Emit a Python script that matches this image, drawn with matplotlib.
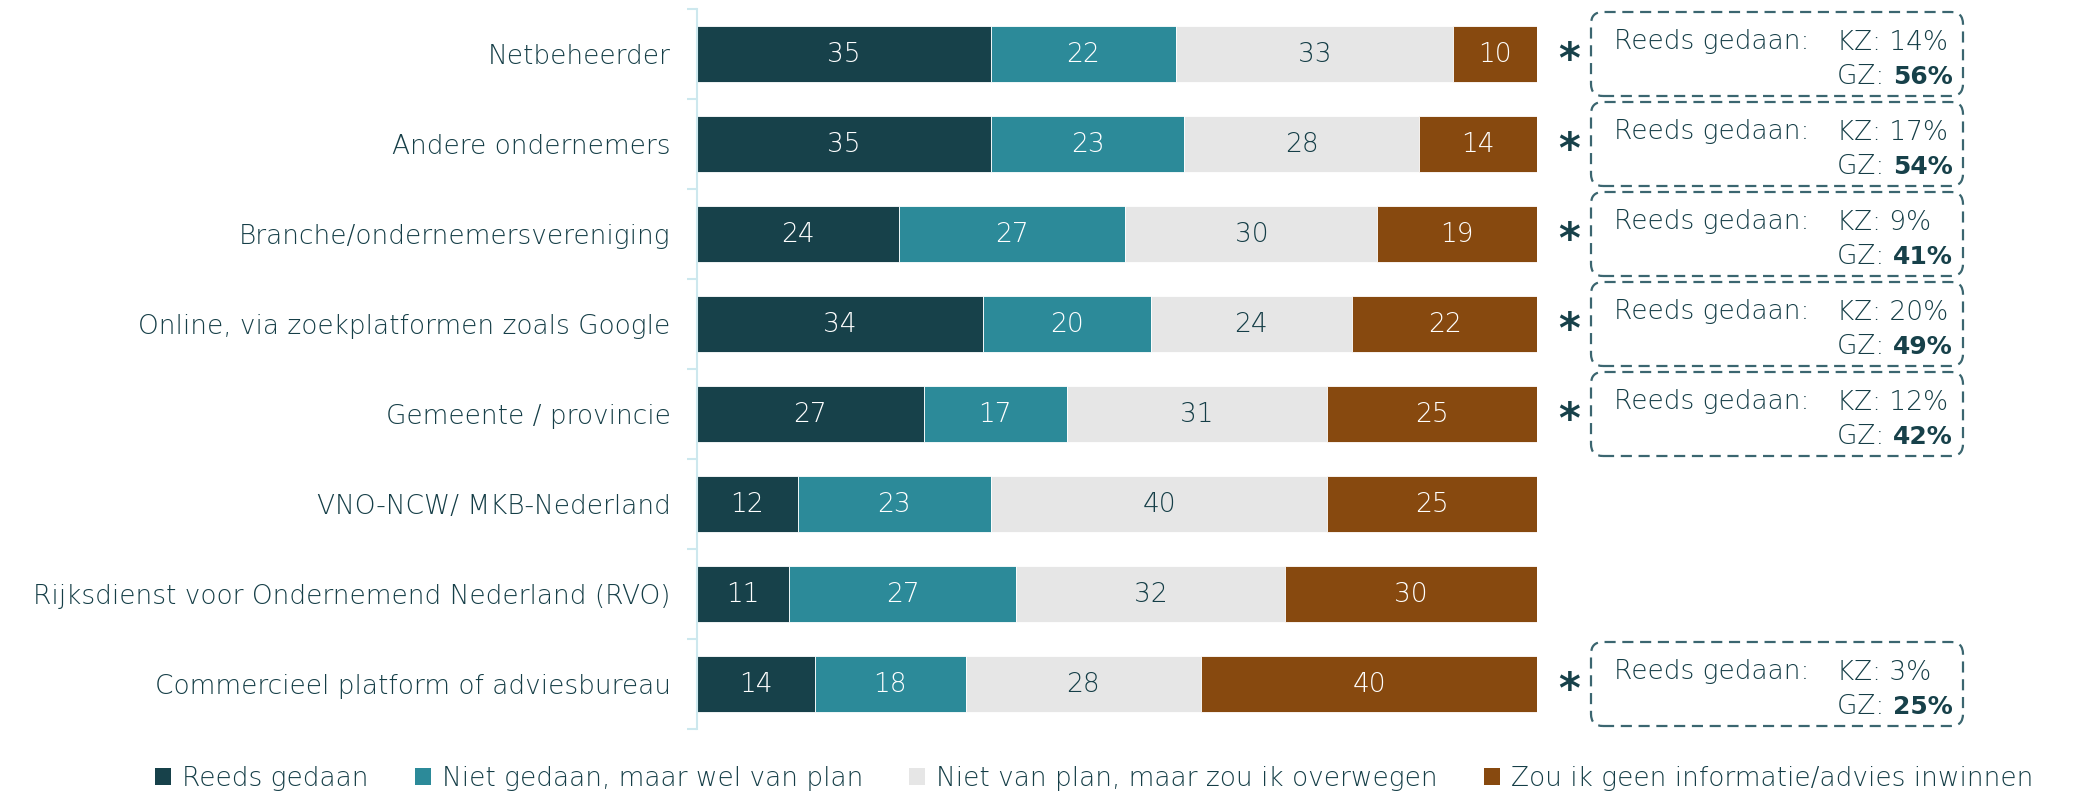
import matplotlib
matplotlib.use('Agg')
import matplotlib.pyplot as plt
from matplotlib.patches import FancyBboxPatch, Patch
from matplotlib.transforms import IdentityTransform

plt.rcParams['font.family'] = ['DejaVu Sans']
plt.rcParams['font.weight'] = 'light'

categories = ['Netbeheerder', 'Andere ondernemers', 'Branche/ondernemersvereniging',
              'Online, via zoekplatformen zoals Google', 'Gemeente / provincie',
              'VNO-NCW/ MKB-Nederland', 'Rijksdienst voor Ondernemend Nederland (RVO)',
              'Commercieel platform of adviesbureau']
reeds_gedaan = [35, 35, 24, 34, 27, 12, 11, 14]
wel_van_plan = [22, 23, 27, 20, 17, 23, 27, 18]
zou_overwegen = [33, 28, 30, 24, 31, 40, 32, 28]
geen_advies = [10, 14, 19, 22, 25, 25, 30, 40]
series_names = ['Reeds gedaan', 'Niet gedaan, maar wel van plan',
                'Niet van plan, maar zou ik overwegen', 'Zou ik geen informatie/advies inwinnen']
kz = [14, 17, 9, 20, 12, None, None, 3]
gz = [56, 54, 41, 49, 42, None, None, 25]

colors = ['#17414a', '#2c8a99', '#e6e6e6', '#87490f']
text_colors = ['white', 'white', '#153e47', 'white']
label_color = '#153e47'
W, H = 2074, 791
fs = 19

fig = plt.figure(figsize=(W / 100, H / 100), dpi=100)
ax = fig.add_axes([697 / W, 62 / H, 840 / W, 720 / H])

y = list(range(len(categories)))
left = [0] * len(categories)
for vals, col, tcol, name in zip([reeds_gedaan, wel_van_plan, zou_overwegen, geen_advies],
                                 colors, text_colors, series_names):
    bars = ax.barh(y, vals, left=left, height=0.62, color=col, edgecolor='white',
                   linewidth=0.6, label=name)
    for b, v in zip(bars, vals):
        ax.text(b.get_x() + b.get_width() / 2, b.get_y() + b.get_height() / 2, str(v),
                ha='center', va='center', color=tcol, fontsize=fs)
    left = [a + b for a, b in zip(left, vals)]

ax.set_xlim(0, 100)
ax.set_ylim(len(categories) - 0.5, -0.5)
ax.set_yticks(y)
ax.set_yticklabels(categories, fontsize=fs, color=label_color)
ax.set_yticks([i - 0.5 for i in range(len(categories) + 1)], minor=True)
ax.tick_params(axis='y', which='major', length=0, pad=19)
ax.tick_params(axis='y', which='minor', length=7, width=1.5, color='#cde8ee')
ax.set_xticks([])
for s in ['top', 'right', 'bottom']:
    ax.spines[s].set_visible(False)
ax.spines['left'].set_color('#cde8ee')
ax.spines['left'].set_linewidth(1.5)

# kaders met KZ / GZ
for i, (k, g) in enumerate(zip(kz, gz)):
    if k is None:
        continue
    xe, cy = ax.transData.transform((100, i))
    box = FancyBboxPatch((xe + 54, cy - 42), 372, 84,
                         boxstyle='round,pad=0,rounding_size=12',
                         transform=IdentityTransform(), fill=False,
                         edgecolor='#3b6670', linewidth=1.6, linestyle=(0, (5, 3)))
    fig.add_artist(box)
    fig.text((xe + 32) / W, (cy - 7) / H, '*', ha='center', va='center',
             fontsize=30, fontweight='bold', color='#17414a')
    fig.text((xe + 77) / W, (cy + 12) / H, 'Reeds gedaan:', ha='left', va='center',
             fontsize=fs, color=label_color)
    fig.text((xe + 300) / W, (cy + 12) / H, f'KZ: {k}%', ha='left', va='center',
             fontsize=fs, color=label_color)
    t = fig.text((xe + 300) / W, (cy - 23) / H, 'GZ: ', ha='left', va='center',
                 fontsize=fs, color=label_color)
    ax.annotate(f'{g}%', xy=(1, 0), xycoords=t, ha='left', va='bottom',
                fontsize=18, fontweight='bold', color='#17414a', annotation_clip=False)

handles = [Patch(facecolor=c) for c in colors]
fig.legend(handles, series_names, loc='lower center', bbox_to_anchor=(0.5275, -0.03),
           ncol=4, frameon=False, fontsize=fs, labelcolor=label_color,
           handlelength=0.62, handleheight=0.62, handletextpad=0.4, columnspacing=1.75)

fig.savefig('out.png', dpi=100)
